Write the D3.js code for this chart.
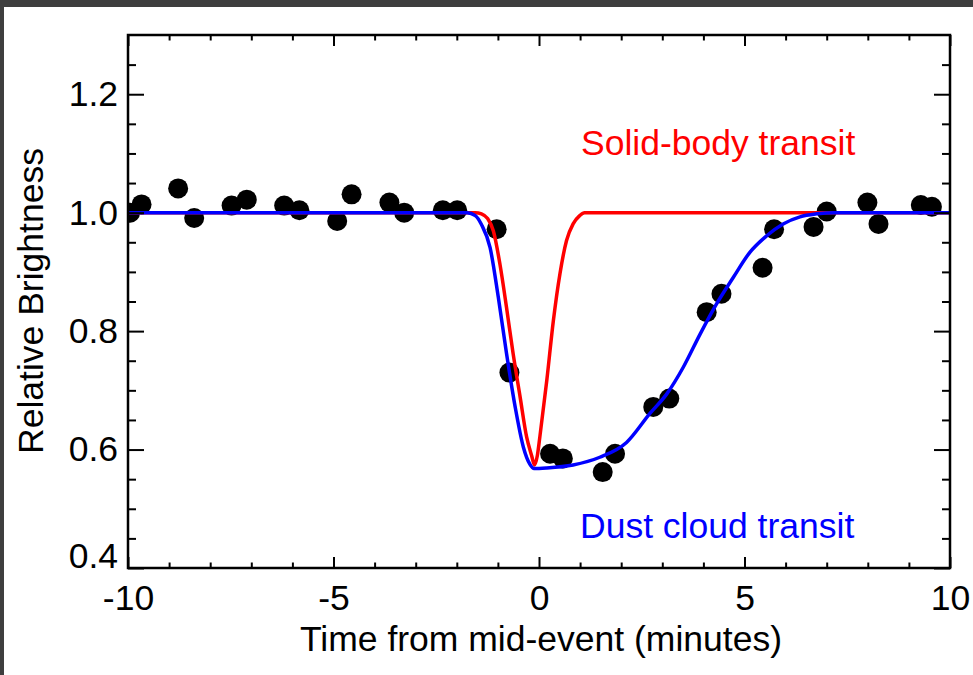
<!DOCTYPE html>
<html>
<head>
<meta charset="utf-8">
<script src="https://cdn.jsdelivr.net/npm/d3@7"></script>
<style>
  html, body { margin: 0; padding: 0; background: #ffffff; }
  svg { display: block; }
  text { font-family: "Liberation Sans", Arial, Helvetica, sans-serif; }
</style>
</head>
<body>
<svg id="chart" width="973" height="675"></svg>
<script>
// Observed brightness samples (time in minutes, relative brightness)
const obsTime = [-9.95, -9.67, -8.78, -8.39, -7.48, -7.11, -6.20, -5.83, -4.91, -4.56,
                 -3.64, -3.28, -2.34, -1.99, -1.03, -0.72, 0.27, 0.58, 1.55, 1.85,
                 2.78, 3.17, 4.08, 4.44, 5.44, 5.72, 6.68, 7.00, 7.99, 8.26, 9.29, 9.56];
const obsFlux = [1.000, 1.014, 1.041, 0.991, 1.012, 1.022, 1.012, 1.004, 0.986, 1.031,
                 1.017, 1.000, 1.004, 1.004, 0.972, 0.730, 0.593, 0.585, 0.562, 0.593,
                 0.672, 0.686, 0.832, 0.863, 0.907, 0.972, 0.976, 1.002, 1.017, 0.981, 1.013, 1.010];

// Solid-body transit model
const solidTime = [-10, -1.55, -1.40, -1.25, -1.11, -0.95, -0.79, -0.63, -0.46, -0.30, -0.18, -0.11,
                   -0.04, 0.02, 0.19, 0.35, 0.51, 0.67, 0.83, 0.99, 1.11, 1.25, 10];
const solidFlux = [1.0, 1.0, 0.998, 0.990, 0.969, 0.913, 0.840, 0.762, 0.689, 0.621, 0.590, 0.574,
                   0.590, 0.621, 0.717, 0.818, 0.897, 0.953, 0.981, 0.995, 1.0, 1.0, 1.0];

// Dust-cloud transit model
const dustTime = [-10, -1.75, -1.55, -1.40, -1.19, -0.99, -0.79, -0.58, -0.38, -0.22, -0.12, 0.19,
                  0.83, 1.48, 2.13, 2.70, 3.11, 3.51, 3.92, 4.32, 4.73, 5.13, 5.54, 5.94,
                  6.35, 6.76, 7.2, 10];
const dustFlux = [1.0, 1.0, 0.995, 0.980, 0.941, 0.857, 0.762, 0.672, 0.604, 0.575, 0.568, 0.569,
                  0.574, 0.587, 0.612, 0.661, 0.694, 0.739, 0.795, 0.846, 0.891, 0.933, 0.961, 0.981,
                  0.993, 0.998, 1.0, 1.0];

const xMajorTicks = [-10, -5, 0, 5, 10];
const xMinorTicks = d3.range(-9, 10, 1).filter(v => v % 5 !== 0);
const yMajorTicks = [0.4, 0.6, 0.8, 1.0, 1.2];
const yMinorTicks = [0.45, 0.5, 0.55, 0.65, 0.7, 0.75, 0.85, 0.9, 0.95, 1.05, 1.1, 1.15, 1.25];

const xLabel = "Time from mid-event (minutes)";
const yLabel = "Relative Brightness";
const solidLabel = "Solid-body transit";
const dustLabel = "Dust cloud transit";

const svg = d3.select("#chart");
const W = 973, H = 675;
const plotL = 128, plotR = 950, plotT = 35, plotB = 568;
const fontSize = 35.5;

// dark border strips along the top and left edges
svg.append("rect").attr("x", 0).attr("y", 0).attr("width", W).attr("height", 7).attr("fill", "#3e3e3e");
svg.append("rect").attr("x", 0).attr("y", 0).attr("width", 4).attr("height", H).attr("fill", "#3e3e3e");

const x = d3.scaleLinear().domain([-10, 10]).range([plotL, plotR]);
const y = d3.scaleLinear().domain([0.4, 1.3]).range([plotB, plotT]);

svg.append("defs").append("clipPath").attr("id", "plotClip")
  .append("rect").attr("x", plotL).attr("y", plotT).attr("width", plotR - plotL).attr("height", plotB - plotT);

const plot = svg.append("g").attr("clip-path", "url(#plotClip)");

// data points
const obs = obsTime.map((t, i) => ({ t, f: obsFlux[i] }));
plot.selectAll("circle.obs").data(obs).join("circle")
  .attr("class", "obs")
  .attr("cx", d => x(d.t)).attr("cy", d => y(d.f)).attr("r", 10)
  .attr("fill", "#000");

const line = d3.line().x(d => x(d[0])).y(d => y(d[1])).curve(d3.curveMonotoneX);
plot.append("path").datum(solidTime.map((t, i) => [t, solidFlux[i]]))
  .attr("d", line).attr("fill", "none").attr("stroke", "#ff0000").attr("stroke-width", 3.5)
  .attr("stroke-linejoin", "round");
plot.append("path").datum(dustTime.map((t, i) => [t, dustFlux[i]]))
  .attr("d", line).attr("fill", "none").attr("stroke", "#0000ff").attr("stroke-width", 3.5)
  .attr("stroke-linejoin", "round");

// axes: ticks point inward, minor ticks are half length
const xMajLen = 11, xMinLen = 5.5, yMajLen = 16, yMinLen = 8;
function styleAxis(g) {
  g.select(".domain").remove();
  g.selectAll(".tick line").attr("stroke", "#000").attr("stroke-width", 2);
  g.selectAll(".tick text").attr("fill", "#000").style("font-size", fontSize + "px");
}
svg.append("g").attr("transform", `translate(0,${plotB})`)
  .call(d3.axisBottom(x).tickValues(xMajorTicks).tickSize(-xMajLen).tickPadding(17).tickFormat(d => String(d)))
  .call(styleAxis);
svg.append("g").attr("transform", `translate(0,${plotB})`)
  .call(d3.axisBottom(x).tickValues(xMinorTicks).tickSize(-xMinLen).tickFormat(""))
  .call(styleAxis);
svg.append("g").attr("transform", `translate(0,${plotT})`)
  .call(d3.axisTop(x).tickValues(xMajorTicks).tickSize(-xMajLen).tickFormat(""))
  .call(styleAxis);
svg.append("g").attr("transform", `translate(0,${plotT})`)
  .call(d3.axisTop(x).tickValues(xMinorTicks).tickSize(-xMinLen).tickFormat(""))
  .call(styleAxis);
const yAxisG = svg.append("g").attr("transform", `translate(${plotL},0)`)
  .call(d3.axisLeft(y).tickValues(yMajorTicks).tickSize(-yMajLen).tickPadding(10).tickFormat(d3.format(".1f")))
  .call(styleAxis);
// lowest label is lifted so it clears the time labels
yAxisG.selectAll(".tick text").filter(d => d === 0.4).attr("y", -12);
svg.append("g").attr("transform", `translate(${plotL},0)`)
  .call(d3.axisLeft(y).tickValues(yMinorTicks).tickSize(-yMinLen).tickFormat(""))
  .call(styleAxis);
svg.append("g").attr("transform", `translate(${plotR},0)`)
  .call(d3.axisRight(y).tickValues(yMajorTicks).tickSize(-yMajLen).tickFormat(""))
  .call(styleAxis);
svg.append("g").attr("transform", `translate(${plotR},0)`)
  .call(d3.axisRight(y).tickValues(yMinorTicks).tickSize(-yMinLen).tickFormat(""))
  .call(styleAxis);

// plot frame
svg.append("rect").attr("x", plotL).attr("y", plotT).attr("width", plotR - plotL).attr("height", plotB - plotT)
  .attr("fill", "none").attr("stroke", "#000").attr("stroke-width", 2.5);

// axis titles
svg.append("text").attr("x", (plotL + plotR) / 2 + 2).attr("y", 651)
  .attr("text-anchor", "middle").style("font-size", fontSize + "px").attr("fill", "#000").text(xLabel);
svg.append("text").attr("transform", "translate(43,301) rotate(-90)")
  .attr("text-anchor", "middle").style("font-size", fontSize + "px").attr("fill", "#000").text(yLabel);

// model annotations
svg.append("text").attr("x", 581).attr("y", 155).style("font-size", fontSize + "px")
  .attr("fill", "#ff0000").text(solidLabel);
svg.append("text").attr("x", 580).attr("y", 538).style("font-size", fontSize + "px")
  .attr("fill", "#0000ff").text(dustLabel);
</script>
</body>
</html>
